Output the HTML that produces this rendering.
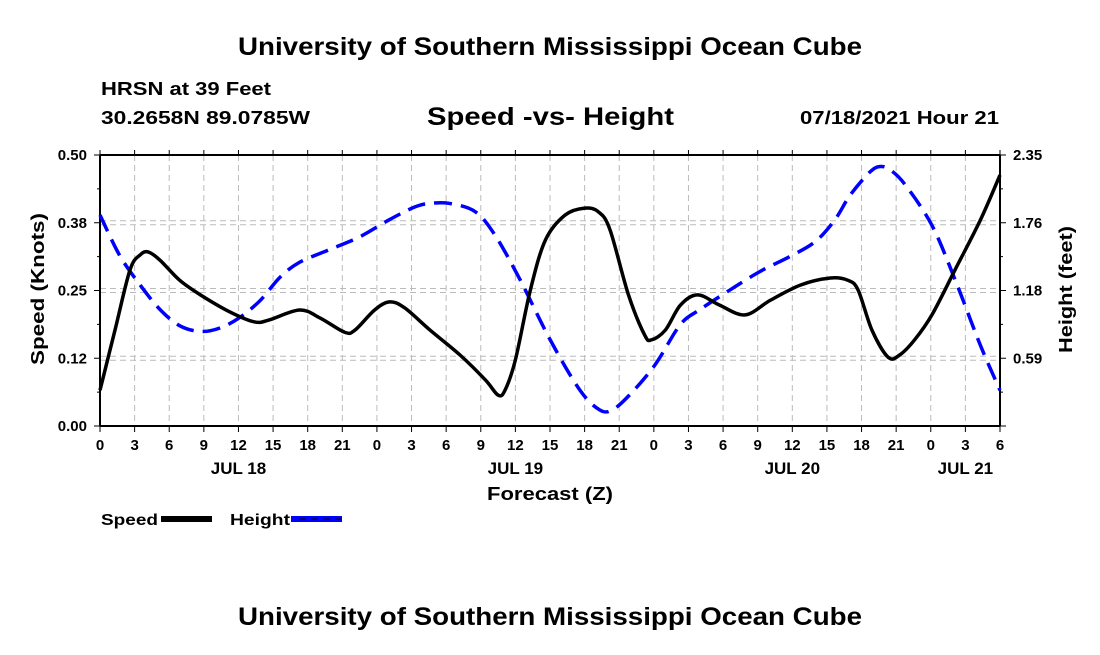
<!DOCTYPE html>
<html><head><meta charset="utf-8"><style>
body{margin:0;background:#fff;}
svg text{font-family:"Liberation Sans",Arial,sans-serif;font-weight:bold;fill:#000;}
</style></head><body>
<svg id="chart" width="1100" height="650" viewBox="0 0 1100 650" xmlns="http://www.w3.org/2000/svg">
<text x="238" y="55" font-size="25" textLength="624" lengthAdjust="spacingAndGlyphs">University of Southern Mississippi Ocean Cube</text>
<text x="101" y="95" font-size="18" textLength="170" lengthAdjust="spacingAndGlyphs">HRSN at 39 Feet</text>
<text x="101" y="124" font-size="18" textLength="209" lengthAdjust="spacingAndGlyphs">30.2658N  89.0785W</text>
<text x="427" y="125" font-size="25" textLength="247" lengthAdjust="spacingAndGlyphs">Speed -vs- Height</text>
<text x="800" y="124" font-size="18" textLength="199" lengthAdjust="spacingAndGlyphs">07/18/2021 Hour 21</text>
<g id="grid"></g>
<g id="axes"></g>
<g id="series"></g>
<text transform="translate(44,365) rotate(-90)" font-size="18" textLength="152" lengthAdjust="spacingAndGlyphs">Speed (Knots)</text>
<text transform="translate(1072,353) rotate(-90)" font-size="18" textLength="127" lengthAdjust="spacingAndGlyphs">Height (feet)</text>
<text x="487" y="500" font-size="18" textLength="126" lengthAdjust="spacingAndGlyphs">Forecast (Z)</text>
<g>
<text x="101" y="525" font-size="16" textLength="57" lengthAdjust="spacingAndGlyphs">Speed</text>
<rect x="161" y="516" width="51" height="6" fill="#000"/>
<text x="230" y="525" font-size="16" textLength="60" lengthAdjust="spacingAndGlyphs">Height</text>
<rect x="291" y="516" width="51" height="6" fill="#0000ff"/>
<line x1="299" y1="519" x2="341" y2="519" stroke="#000" stroke-width="1" stroke-dasharray="7,5"/>
</g>
<text x="238" y="625" font-size="25" textLength="624" lengthAdjust="spacingAndGlyphs">University of Southern Mississippi Ocean Cube</text>
</svg>
<script>
const speedHours=[0,1.3,2.6,3.5,4.2,5.2,6.9,8.7,11.3,13.4,14.7,17.3,19.1,21.2,22.1,23.8,25.1,26.4,28.6,31.2,33.4,34.5,35.1,36.0,37.3,38.6,40.3,42.0,43.2,44.2,45.8,47.2,47.8,49.0,50.3,51.8,53.7,55.9,58.1,60.7,63.3,64.8,65.7,66.9,68.3,69.3,70.6,72.1,74.1,76.3,78];
const speedValues=[0.066,0.177,0.288,0.316,0.321,0.306,0.269,0.242,0.210,0.192,0.196,0.214,0.199,0.173,0.177,0.214,0.229,0.218,0.177,0.131,0.085,0.057,0.066,0.122,0.251,0.343,0.389,0.402,0.395,0.362,0.242,0.168,0.159,0.177,0.223,0.242,0.223,0.205,0.232,0.260,0.273,0.269,0.251,0.177,0.127,0.131,0.159,0.205,0.288,0.380,0.463];
const heightHours=[0,1.7,3.5,5.2,6.9,8.7,10.4,12.1,13.9,15.6,17.3,19.9,22.5,25.1,27.3,28.6,30.3,32.5,34.2,36.4,39.0,41.6,43.3,44.4,45.9,48.1,50.3,52.0,54.6,57.2,59.8,62.0,63.7,65.0,66.7,67.6,68.5,69.8,72.1,74.1,76.3,78];
const heightValues=[1.83,1.48,1.22,1.01,0.87,0.82,0.85,0.94,1.09,1.29,1.42,1.53,1.64,1.79,1.90,1.93,1.93,1.86,1.66,1.27,0.75,0.31,0.14,0.14,0.27,0.53,0.88,1.01,1.18,1.34,1.47,1.60,1.79,2.00,2.20,2.25,2.22,2.09,1.74,1.27,0.70,0.31];
const xTickLabels=["0","3","6","9","12","15","18","21","0","3","6","9","12","15","18","21","0","3","6","9","12","15","18","21","0","3","6"];
const dayLabels=["JUL 18","JUL 19","JUL 20","JUL 21"];
const dayLabelHours=[12,36,60,75];
const speedTicks=[0,0.125,0.25,0.375,0.5];
const speedTickLabels=["0.00","0.12","0.25","0.38","0.50"];
const heightTickLabels=["","0.59","1.18","1.76","2.35"];
const X0=100,X1=1000,Y0=426,Y1=155,HMAX=78,SMAX=0.5,FMAX=2.35;
const xs=h=>X0+h*(X1-X0)/HMAX;
const ys=v=>Y0-v*(Y0-Y1)/SMAX;
const yf=v=>Y0-v*(Y0-Y1)/FMAX;
const NS="http://www.w3.org/2000/svg";
function mk(tag,attrs,parent){const e=document.createElementNS(NS,tag);for(const k in attrs)e.setAttribute(k,attrs[k]);parent.appendChild(e);return e;}
const grid=document.getElementById('grid'),axes=document.getElementById('axes'),series=document.getElementById('series');
xTickLabels.forEach((l,i)=>{const x=xs(i*3);
 if(i>0&&i<xTickLabels.length-1){const g=mk('line',{x1:x,y1:Y1,x2:x,y2:Y0,stroke:'#bbb','stroke-width':1,'stroke-dasharray':'6,4'},grid);
 
 }
 const t=mk('line',{x1:x,y1:Y0,x2:x,y2:Y0+6,stroke:'#000','stroke-width':1},axes);
 
 
 const t2=mk('line',{x1:x,y1:Y1,x2:x,y2:Y1-5,stroke:'#000','stroke-width':1},axes);
 
 
 const tx=mk('text',{x:x,y:Y0+24,'font-size':15,'text-anchor':'middle'},axes);tx.textContent=l;
 
 
});
dayLabels.forEach((l,i)=>{const tx=mk('text',{x:xs(dayLabelHours[i]),y:Y0+48,'font-size':17,'text-anchor':'middle'},axes);tx.textContent=l;
 
 });
speedTicks.forEach((v,i)=>{const y=ys(v);
 if(i>0&&i<4){[-2,2].forEach(d=>{const g=mk('line',{x1:X0,y1:y+d,x2:X1,y2:y+d,stroke:'#bbb','stroke-width':1,'stroke-dasharray':'6,4'},grid);
 
 });}
 mk('line',{x1:X0-6,y1:y,x2:X0,y2:y,stroke:'#000'},axes);
 mk('line',{x1:X1,y1:y,x2:X1+6,y2:y,stroke:'#000'},axes);
 if(i<4){const m=ys(v+0.0625);mk('line',{x1:X0-3,y1:m,x2:X0,y2:m,stroke:'#000'},axes);mk('line',{x1:X1,y1:m,x2:X1+3,y2:m,stroke:'#000'},axes);}
 const tl=mk('text',{x:X0-13,y:y+5,'font-size':15,'text-anchor':'end'},axes);tl.textContent=speedTickLabels[i];
 
 
 const tr=mk('text',{x:X1+13,y:y+5,'font-size':15},axes);tr.textContent=heightTickLabels[i];
 
 
});
mk('line',{x1:X0,y1:Y1,x2:X1,y2:Y1,stroke:'#000','stroke-width':2},axes);
mk('line',{x1:X0,y1:Y0,x2:X1,y2:Y0,stroke:'#000','stroke-width':2},axes);
mk('line',{x1:X0,y1:Y1,x2:X0,y2:Y0,stroke:'#000','stroke-width':2},axes);
mk('line',{x1:X1,y1:Y1,x2:X1,y2:Y0,stroke:'#000','stroke-width':2},axes);
function smooth(pts){let d='M'+pts[0][0]+','+pts[0][1];for(let i=0;i<pts.length-1;i++){const p0=pts[Math.max(0,i-1)],p1=pts[i],p2=pts[i+1],p3=pts[Math.min(pts.length-1,i+2)];
 d+=' C'+(p1[0]+(p2[0]-p0[0])/6)+','+(p1[1]+(p2[1]-p0[1])/6)+' '+(p2[0]-(p3[0]-p1[0])/6)+','+(p2[1]-(p3[1]-p1[1])/6)+' '+p2[0]+','+p2[1];}return d;}
const hp=mk('path',{d:smooth(heightHours.map((h,i)=>[xs(h),yf(heightValues[i])])),fill:'none',stroke:'#0000ff','stroke-width':3.5,'stroke-dasharray':'18,9'},series);


const sp=mk('path',{d:smooth(speedHours.map((h,i)=>[xs(h),ys(speedValues[i])])),fill:'none',stroke:'#000','stroke-width':3.5},series);


</script>
</body></html>
